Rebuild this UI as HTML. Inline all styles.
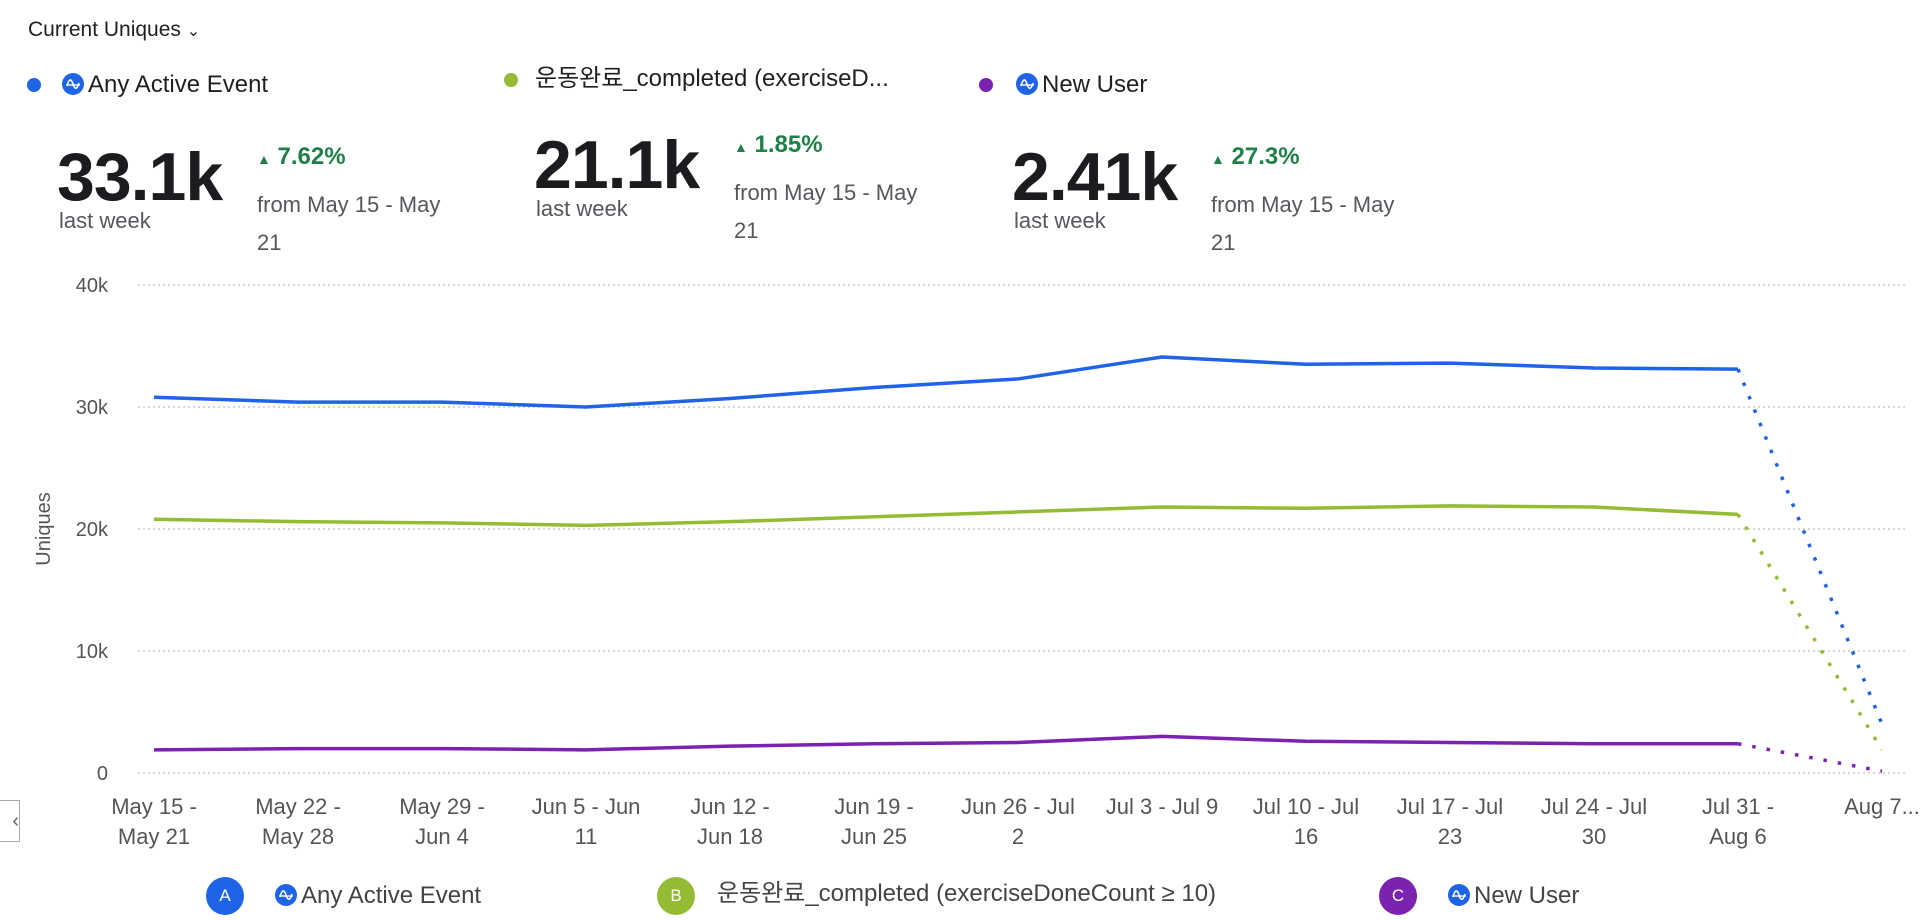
<!DOCTYPE html>
<html><head><meta charset="utf-8"><style>
body{margin:0;width:1920px;height:920px;background:#fff;font-family:"Liberation Sans","Noto Sans CJK KR",sans-serif;position:relative;overflow:hidden;color:#1f2024}
.a{position:absolute;white-space:nowrap}
.ic{display:inline-block;width:22px;height:22px;vertical-align:-3px;margin-right:4px}
.big{font-size:68px;font-weight:bold;letter-spacing:-1px;color:#1b1c20}
.lw{font-size:22px;color:#55575d}
.pct{font-size:24px;font-weight:bold;color:#1f8048}
.from{font-size:22px;color:#55575d;line-height:38px}
.leg{font-size:24px;line-height:30px;height:30px}
.dot{width:14px;height:14px;border-radius:50%;position:absolute}
.bc{width:38px;height:38px;border-radius:50%;color:#fff;text-align:center;line-height:38px;font-size:17px;position:absolute}
</style></head><body>
<svg width="0" height="0" style="position:absolute"><defs><symbol id="amp" viewBox="0 0 22 22"><circle cx="11" cy="11" r="11" fill="#1f63e6"/><path d="M5 13 Q8 2 11 11 T17 10" stroke="#fff" stroke-width="1.6" fill="none"/><line x1="4" y1="12" x2="18" y2="12" stroke="#fff" stroke-width="1.4"/></symbol></defs></svg>
<div class="a" style="left:28px;top:18px;font-size:21px">Current Uniques <span style="font-size:16px">&#8964;</span></div>

<div class="dot" style="left:27px;top:78px;background:#1f63e6"></div>
<div class="a leg" style="left:62px;top:70px"><svg class="ic"><use href="#amp"/></svg>Any Active Event</div>
<div class="dot" style="left:504px;top:73px;background:#94bb34"></div>
<div class="a leg" style="left:535px;top:64px">운동완료_completed (exerciseD...</div>
<div class="dot" style="left:979px;top:78px;background:#7b22b0"></div>
<div class="a leg" style="left:1016px;top:70px"><svg class="ic"><use href="#amp"/></svg>New User</div>

<div class="a big" style="left:57px;top:138px">33.1k</div>
<div class="a lw" style="left:59px;top:208px">last week</div>
<div class="a pct" style="left:257px;top:143px"><span style="font-size:14px">&#9650;</span> 7.62%</div>
<div class="a from" style="left:257px;top:186px">from May 15 - May<br>21</div>

<div class="a big" style="left:534px;top:126px">21.1k</div>
<div class="a lw" style="left:536px;top:196px">last week</div>
<div class="a pct" style="left:734px;top:131px"><span style="font-size:14px">&#9650;</span> 1.85%</div>
<div class="a from" style="left:734px;top:174px">from May 15 - May<br>21</div>

<div class="a big" style="left:1012px;top:138px">2.41k</div>
<div class="a lw" style="left:1014px;top:208px">last week</div>
<div class="a pct" style="left:1211px;top:143px"><span style="font-size:14px">&#9650;</span> 27.3%</div>
<div class="a from" style="left:1211px;top:186px">from May 15 - May<br>21</div>

<div class="a" style="left:-6px;top:800px;width:24px;height:40px;border:1px solid #aaa;color:#666;font-size:20px;line-height:40px;text-align:right">‹</div>

<svg id="chart" class="a" style="left:0;top:0" width="1920" height="920"></svg>

<div class="bc" style="left:206px;top:877px;background:#1f63e6">A</div>
<div class="a leg" style="left:275px;top:881px;color:#444"><svg class="ic"><use href="#amp"/></svg>Any Active Event</div>
<div class="bc" style="left:657px;top:877px;background:#94bb34">B</div>
<div class="a leg" style="left:717px;top:879px;color:#444">운동완료_completed (exerciseDoneCount ≥ 10)</div>
<div class="bc" style="left:1379px;top:877px;background:#7b22b0">C</div>
<div class="a leg" style="left:1448px;top:881px;color:#444"><svg class="ic"><use href="#amp"/></svg>New User</div>

<script>
const categories=[["May 15 -","May 21"],["May 22 -","May 28"],["May 29 -","Jun 4"],["Jun 5 - Jun","11"],["Jun 12 -","Jun 18"],["Jun 19 -","Jun 25"],["Jun 26 - Jul","2"],["Jul 3 - Jul 9",""],["Jul 10 - Jul","16"],["Jul 17 - Jul","23"],["Jul 24 - Jul","30"],["Jul 31 -","Aug 6"],["Aug 7...",""]];
const seriesA=[30.8,30.4,30.4,30.0,30.7,31.6,32.3,34.1,33.5,33.6,33.2,33.1,4.0];
const seriesB=[20.8,20.6,20.5,20.3,20.6,21.0,21.4,21.8,21.7,21.9,21.8,21.2,1.9];
const seriesC=[1.9,2.0,2.0,1.9,2.2,2.4,2.5,3.0,2.6,2.5,2.4,2.4,0.15];
const yTicks=[0,10,20,30,40];
const yTickLabels=["0","10k","20k","30k","40k"];
const NS="http://www.w3.org/2000/svg";
const svg=document.getElementById('chart');
const x0=154,dx=144,yBase=773,yTop=285,yMax=40,gridL=138,gridR=1905;
function xs(i){return x0+i*dx;}
function ys(v){return yBase-(v/yMax)*(yBase-yTop);}
function mk(t,a){const e=document.createElementNS(NS,t);for(const k in a)e.setAttribute(k,a[k]);svg.appendChild(e);return e;}
yTicks.forEach((v,i)=>{
  const g=mk('line',{x1:gridL,x2:gridR,y1:ys(v),y2:ys(v),stroke:'#c8c8c8','stroke-width':1.5,'stroke-dasharray':'2 3'});
  
  
  const t=mk('text',{x:108,y:ys(v)+7,'text-anchor':'end','font-size':20,fill:'#555','font-family':'Liberation Sans, sans-serif'});
  t.textContent=yTickLabels[i];
  
  
});
const yt=mk('text',{x:0,y:0,transform:'translate(50,529) rotate(-90)','text-anchor':'middle','font-size':20,fill:'#555','font-family':'Liberation Sans, sans-serif'});
yt.textContent='Uniques';


categories.forEach((c,i)=>{
  c.forEach((ln,j)=>{
    if(!ln)return;
    const t=mk('text',{x:xs(i),y:814+j*30,'text-anchor':'middle','font-size':22,fill:'#555','font-family':'Liberation Sans, sans-serif'});
    t.textContent=ln;
    
    
  });
});
function drawSeries(d,color,name){
  const n=d.length;
  let p='';
  for(let i=0;i<n-1;i++)p+=(i?'L':'M')+xs(i)+','+ys(d[i]);
  const s=mk('path',{d:p,fill:'none',stroke:color,'stroke-width':3.5,'stroke-linejoin':'round'});
  
  
  const q=mk('path',{d:'M'+xs(n-2)+','+ys(d[n-2])+'L'+xs(n-1)+','+ys(d[n-1]),fill:'none',stroke:color,'stroke-width':3.5,'stroke-dasharray':'3.5 11'});
  
  
}
drawSeries(seriesA,'#1f63e6','series-a');
drawSeries(seriesB,'#94bb34','series-b');
drawSeries(seriesC,'#7b22b0','series-c');
</script>
</body></html>
